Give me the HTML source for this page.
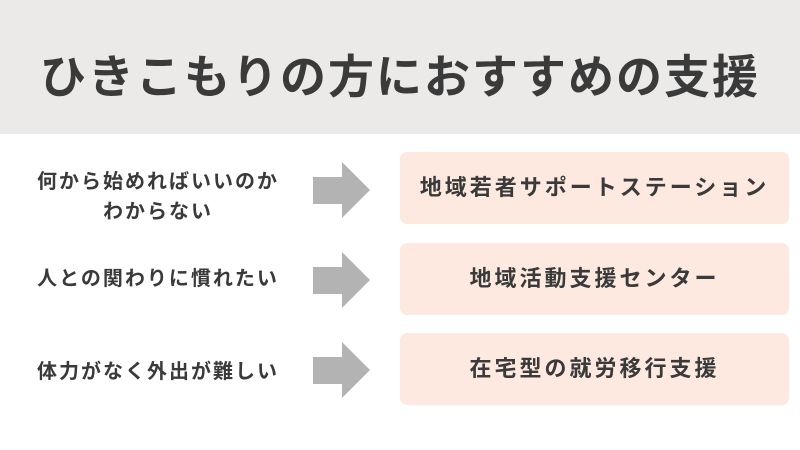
<!DOCTYPE html>
<html><head><meta charset="utf-8"><style>
body{margin:0;width:800px;height:450px;background:#fff;position:relative;overflow:hidden;font-family:"Liberation Sans","Noto Sans CJK JP",sans-serif;color:#3a3a3a}
.hdr{position:absolute;left:0;top:0;width:800px;height:134px;background:#ebeae9}
.title{position:absolute;left:0;top:46px;width:800px;text-align:center;font-size:46px;font-weight:bold;letter-spacing:2px;line-height:62px}
.l{position:absolute;left:8px;width:300px;text-align:center;font-size:20px;font-weight:bold;line-height:30px;letter-spacing:2px}
.b{position:absolute;left:400px;width:389px;height:72px;background:#fde9df;border-radius:7px;text-align:center;line-height:72px;font-size:22px;font-weight:bold;letter-spacing:3px}
svg{position:absolute;left:313px}
</style></head><body>
<div class="hdr"></div>
<div class="title">ひきこもりの方におすすめの支援</div>
<div class="l" style="top:167px">何から始めればいいのか<br>わからない</div>
<div class="l" style="top:264px">人との関わりに慣れたい</div>
<div class="l" style="top:357px">体力がなく外出が難しい</div>
<svg style="top:162px" width="58" height="56"><polygon points="0,15 29,15 29,0 57,28 29,56 29,42 0,42" fill="#b3b3b3"/></svg>
<svg style="top:252px" width="58" height="56"><polygon points="0,15 29,15 29,0 57,28 29,56 29,42 0,42" fill="#b3b3b3"/></svg>
<svg style="top:342px" width="58" height="56"><polygon points="0,15 29,15 29,0 57,28 29,56 29,42 0,42" fill="#b3b3b3"/></svg>
<div class="b" style="top:152px">地域若者サポートステーション</div>
<div class="b" style="top:243px">地域活動支援センター</div>
<div class="b" style="top:333px">在宅型の就労移行支援</div>
</body></html>
